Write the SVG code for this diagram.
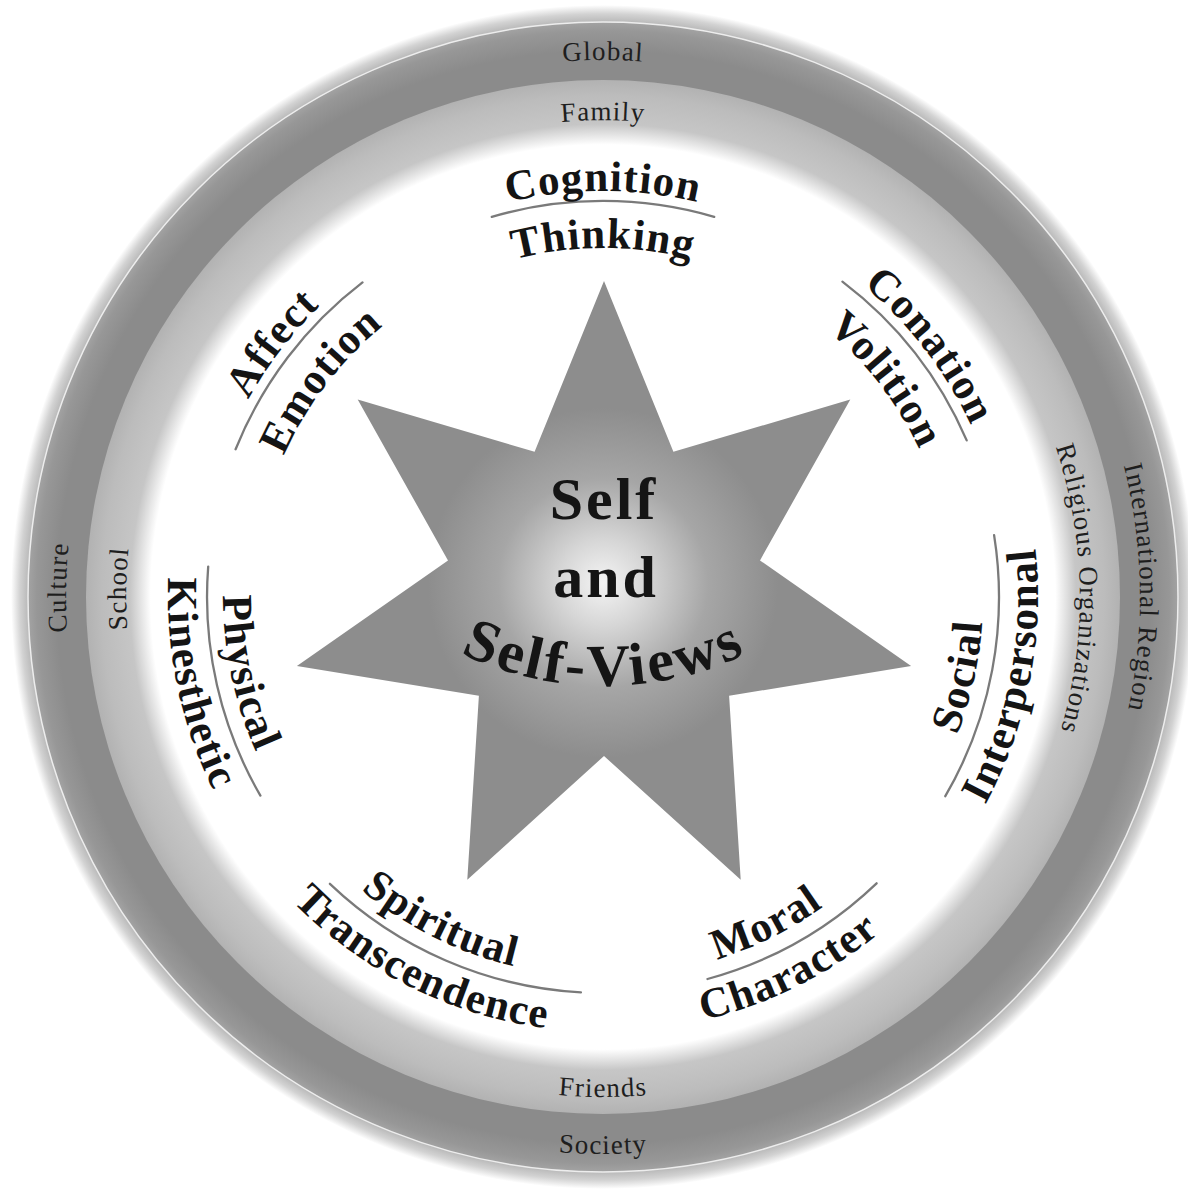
<svg xmlns="http://www.w3.org/2000/svg" width="1188" height="1190" viewBox="0 0 1188 1190">
<style>
.lbl{font-family:"Liberation Serif","Times New Roman",serif;font-weight:bold;font-size:43px;fill:#141414;letter-spacing:1.2px}
.ring{font-family:"Liberation Serif","Times New Roman",serif;font-size:27px;fill:#1e1e1e;letter-spacing:1.2px}
.core{font-family:"Liberation Serif","Times New Roman",serif;font-weight:bold;font-size:60px;fill:#151515;letter-spacing:3px}
.div{fill:none;stroke:#7a7a7a;stroke-width:2.3;stroke-linecap:round}
</style>
<defs>
<radialGradient id="rimGrad" gradientUnits="userSpaceOnUse" cx="603" cy="597" r="592">
<stop offset="0.96" stop-color="#a4a4a4"/><stop offset="0.985" stop-color="#d2d2d2"/><stop offset="1" stop-color="#ffffff"/>
</radialGradient>
<radialGradient id="darkGrad" gradientUnits="userSpaceOnUse" cx="603" cy="597" r="575">
<stop offset="0" stop-color="#8b8b8b"/><stop offset="0.95" stop-color="#8b8b8b"/><stop offset="0.985" stop-color="#979797"/><stop offset="1" stop-color="#a3a3a3"/>
</radialGradient>
<radialGradient id="lightGrad" gradientUnits="userSpaceOnUse" cx="603" cy="597" r="517">
<stop offset="0" stop-color="#ffffff"/><stop offset="0.875" stop-color="#ffffff"/><stop offset="0.915" stop-color="#c6c6c6"/><stop offset="0.97" stop-color="#bcbcbc"/><stop offset="1" stop-color="#b2b2b2"/>
</radialGradient>
<radialGradient id="starGrad" gradientUnits="userSpaceOnUse" cx="603" cy="583" r="175">
<stop offset="0" stop-color="#f4f4f4"/><stop offset="0.25" stop-color="#d6d6d6"/><stop offset="0.6" stop-color="#a6a6a6"/><stop offset="1" stop-color="#8d8d8d"/>
</radialGradient>
<path id="cw406" d="M197,597 A406,406 0 0 1 1009,597"/>
<path id="cw349" d="M254,597 A349,349 0 0 1 952,597"/>
<path id="cw537" d="M66,597 A537,537 0 0 1 1140,597"/>
<path id="cw477" d="M126,597 A477,477 0 0 1 1080,597"/>
<path id="ccw380" d="M223,597 A380,380 0 0 0 983,597"/>
<path id="ccw435" d="M168,597 A435,435 0 0 0 1038,597"/>
<path id="ccw500" d="M103,597 A500,500 0 0 0 1103,597"/>
<path id="ccw557" d="M46,597 A557,557 0 0 0 1160,597"/>
<path id="selfArc" d="M274,356 A330,330 0 0 0 934,356"/>
</defs>

<g id="rings">
<circle cx="603" cy="597" r="592" fill="url(#rimGrad)"/>
<circle cx="603" cy="597" r="575" fill="url(#darkGrad)"/>
<circle cx="603" cy="597" r="575" fill="none" stroke="#ededed" stroke-width="1.5"/>
<circle cx="603" cy="597" r="517" fill="url(#lightGrad)"/>
</g>

<g id="ring-labels">
<text id="global" class="ring" text-anchor="middle"><textPath href="#cw537" startOffset="50%">Global</textPath></text>
<text id="family" class="ring" text-anchor="middle"><textPath href="#cw477" startOffset="50%">Family</textPath></text>
<text id="culture" class="ring" text-anchor="middle" transform="rotate(-89 603 597)"><textPath href="#cw537" startOffset="50%">Culture</textPath></text>
<text id="school" class="ring" text-anchor="middle" transform="rotate(-89 603 597)"><textPath href="#cw477" startOffset="50%">School</textPath></text>
<text id="international" class="ring" text-anchor="middle" transform="rotate(89 603 597)"><textPath href="#cw537" startOffset="50%">International Region</textPath></text>
<text id="religious" class="ring" text-anchor="middle" transform="rotate(89 603 597)"><textPath href="#cw477" startOffset="50%">Religious Organizations</textPath></text>
<text id="friends" class="ring" text-anchor="middle"><textPath href="#ccw500" startOffset="50%">Friends</textPath></text>
<text id="society" class="ring" text-anchor="middle"><textPath href="#ccw557" startOffset="50%">Society</textPath></text>
</g>

<g id="self">
<polygon points="604,281 673.4,451.8 850.3,399.6 760,560.4 911.1,666.1 729.1,695.8 740.7,879.8 604,756 467.3,879.8 478.9,695.8 296.9,666.1 448,560.4 357.7,399.6 534.6,451.8" fill="url(#starGrad)"/>
<text class="core" x="604" y="519" text-anchor="middle">Self</text>
<text class="core" x="606" y="597" text-anchor="middle">and</text>
<text class="core" text-anchor="middle"><textPath href="#selfArc" startOffset="50%">Self-Views</textPath></text>
</g>

<g id="connectors">
<path class="div" d="M491.8,216.9 A396,396 0 0 1 714.2,216.9"/>
<path class="div" d="M842.4,281.6 A396,396 0 0 1 966.7,440.4"/>
<path class="div" d="M994.1,535.1 A396,396 0 0 1 945.3,796.2"/>
<path class="div" d="M876.6,883.3 A396,396 0 0 1 707.5,979"/>
<path class="div" d="M580.9,992.4 A396,396 0 0 1 329.9,883.8"/>
<path class="div" d="M260.4,795.6 A396,396 0 0 1 208.2,566.6"/>
<path class="div" d="M235.6,449.3 A396,396 0 0 1 362.5,282.4"/>
</g>

<g id="cognition">
<text class="lbl" text-anchor="middle"><textPath href="#cw406" startOffset="50%">Cognition</textPath></text>
<text class="lbl" text-anchor="middle"><textPath href="#cw349" startOffset="50%">Thinking</textPath></text>
</g>
<g id="conation">
<text class="lbl" text-anchor="middle" transform="rotate(52.5 603 597)"><textPath href="#cw406" startOffset="50%">Conation</textPath></text>
<text class="lbl" text-anchor="middle" transform="rotate(52.5 603 597)"><textPath href="#cw349" startOffset="50%">Volition</textPath></text>
</g>
<g id="affect">
<text class="lbl" text-anchor="middle" transform="rotate(-52.5 603 597)"><textPath href="#cw406" startOffset="50%">Affect</textPath></text>
<text class="lbl" text-anchor="middle" transform="rotate(-52.5 603 597)"><textPath href="#cw349" startOffset="50%">Emotion</textPath></text>
</g>
<g id="social">
<text class="lbl" text-anchor="middle" transform="rotate(-77.5 603 597)"><textPath href="#ccw380" startOffset="50%">Social</textPath></text>
<text class="lbl" text-anchor="middle" transform="rotate(-79 603 597)"><textPath href="#ccw435" startOffset="50%">Interpersonal</textPath></text>
</g>
<g id="moral">
<text class="lbl" text-anchor="middle" transform="rotate(-26.5 603 597)"><textPath href="#ccw380" startOffset="50%">Moral</textPath></text>
<text class="lbl" text-anchor="middle" transform="rotate(-26.5 603 597)"><textPath href="#ccw435" startOffset="50%">Character</textPath></text>
</g>
<g id="spiritual">
<text class="lbl" text-anchor="middle" transform="rotate(26.5 603 597)"><textPath href="#ccw380" startOffset="50%">Spiritual</textPath></text>
<text class="lbl" text-anchor="middle" transform="rotate(26.5 603 597)"><textPath href="#ccw435" startOffset="50%">Transcendence</textPath></text>
</g>
<g id="physical">
<text class="lbl" text-anchor="middle" transform="rotate(78 603 597)"><textPath href="#ccw380" startOffset="50%">Physical</textPath></text>
<text class="lbl" text-anchor="middle" transform="rotate(78 603 597)"><textPath href="#ccw435" startOffset="50%">Kinesthetic</textPath></text>
</g>
</svg>
